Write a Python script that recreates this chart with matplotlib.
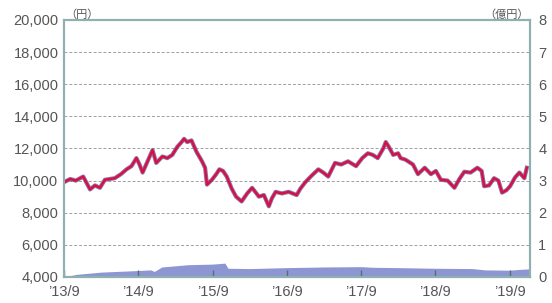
import matplotlib.pyplot as plt

# months since 2013/9 and base price (yen)
price_month = [0, 1.0, 1.9, 3.1, 4.2, 5.0, 5.8, 6.6, 8.2, 9.2, 10.1, 10.9, 11.7, 12.2, 12.7,
               13.5, 14.3, 14.9, 15.9, 16.7, 17.5, 18.3, 19.0, 19.4, 19.9, 20.6, 21.4, 22.3,
               22.8, 23.1, 23.9, 24.6, 25.1, 25.7, 26.3, 27.1, 27.8, 28.7, 29.6, 30.4, 31.5,
               32.3, 33.1, 33.6, 34.2, 35.2, 36.3, 37.6, 38.2, 39.0, 40.0, 41.1, 41.9, 42.7,
               43.8, 44.8, 45.9, 47.2, 48.2, 49.1, 49.9, 50.7, 51.6, 52.0, 52.5, 53.2, 54.0,
               54.4, 55.2, 56.4, 57.2, 58.3, 59.3, 60.1, 60.9, 62.0, 63.1, 63.9, 64.7, 65.7,
               66.8, 67.5, 67.9, 68.7, 69.5, 70.2, 70.8, 71.5, 72.1, 72.9, 73.6, 74.4, 74.8]
price = [9900, 10100, 10000, 10250, 9450, 9700, 9550, 10050, 10150, 10400, 10700, 10900, 11400,
         11000, 10500, 11200, 11900, 11100, 11500, 11400, 11600, 12100, 12400, 12600, 12400,
         12500, 11800, 11200, 10800, 9750, 10050, 10400, 10700, 10600, 10250, 9500, 9000, 8700,
         9200, 9550, 9000, 9100, 8400, 8900, 9300, 9200, 9300, 9100, 9500, 9900, 10300, 10700,
         10500, 10250, 11100, 11000, 11200, 10900, 11400, 11700, 11600, 11400, 12000, 12400,
         12100, 11600, 11700, 11400, 11300, 11000, 10400, 10800, 10400, 10600, 10050, 10000,
         9550, 10100, 10550, 10500, 10800, 10600, 9650, 9700, 10150, 10000, 9250, 9400, 9650,
         10200, 10500, 10150, 10800]

# net assets (100 million yen)
asset_month = [0, 2, 6, 12, 14, 14.6, 15.8, 20, 24, 26, 26.5, 30, 36, 42, 48, 50, 54, 60, 66, 68,
               72, 74, 75.3]
assets = [0.0, 0.08, 0.15, 0.2, 0.22, 0.17, 0.31, 0.38, 0.40, 0.43, 0.27, 0.26, 0.29, 0.31,
          0.32, 0.30, 0.29, 0.27, 0.26, 0.22, 0.21, 0.24, 0.25]

xtick_labels = ["’13/9", "’14/9", "’15/9", "’16/9", "’17/9", "’18/9", "’19/9"]

plt.rcParams['font.family'] = ['Liberation Sans', 'Noto Sans CJK JP']
tcol = '#555555'
scol = '#8fb0b0'

fig = plt.figure(figsize=(5.52, 3.03), dpi=100)
ax = fig.add_axes([0.116, 0.086, 0.844, 0.848])
ax2 = ax.twinx()

ax2.fill_between(asset_month, assets, 0, color='#8d96d2', lw=0)
ax2.set_ylim(0, 8)
ax2.set_yticks(range(0, 9))

ax.plot(price_month, price, color='#7a5aa8', lw=3.0, alpha=0.85, solid_joinstyle='round')
ax.plot(price_month, price, color='#d8103c', lw=1.7, solid_joinstyle='round')
ax.set_ylim(4000, 20000)
ax.set_yticks(range(4000, 20001, 2000))
ax.set_yticklabels(['{:,}'.format(v) for v in range(4000, 20001, 2000)])
ax.set_xlim(0, 75.3)
ax.set_xticks(range(0, 73, 12))
ax.set_xticklabels(xtick_labels)
ax.grid(axis='y', color='#a0a0a0', ls=(0, (3, 2)), lw=0.7)
ax.set_zorder(ax2.get_zorder() + 1)
ax.patch.set_visible(False)

for a in (ax, ax2):
    for s in a.spines.values():
        s.set_color(scol)
        s.set_linewidth(1.5)
ax.tick_params(axis='y', length=0, labelsize=10.5, labelcolor=tcol, pad=4)
ax.tick_params(axis='x', direction='in', length=5, color='#4e7272', width=1,
               labelsize=10.5, labelcolor=tcol, pad=6)
ax2.tick_params(axis='y', length=0, labelsize=10.5, labelcolor=tcol, pad=6)

ax.text(0.002, 1.0, '（円）', transform=ax.transAxes, fontsize=8, color=tcol,
        family=['Noto Sans CJK JP'], va='bottom', ha='left')
ax.text(0.998, 1.0, '（億円）', transform=ax.transAxes, fontsize=8, color=tcol,
        family=['Noto Sans CJK JP'], va='bottom', ha='right')

fig.savefig('out.png', dpi=100)
